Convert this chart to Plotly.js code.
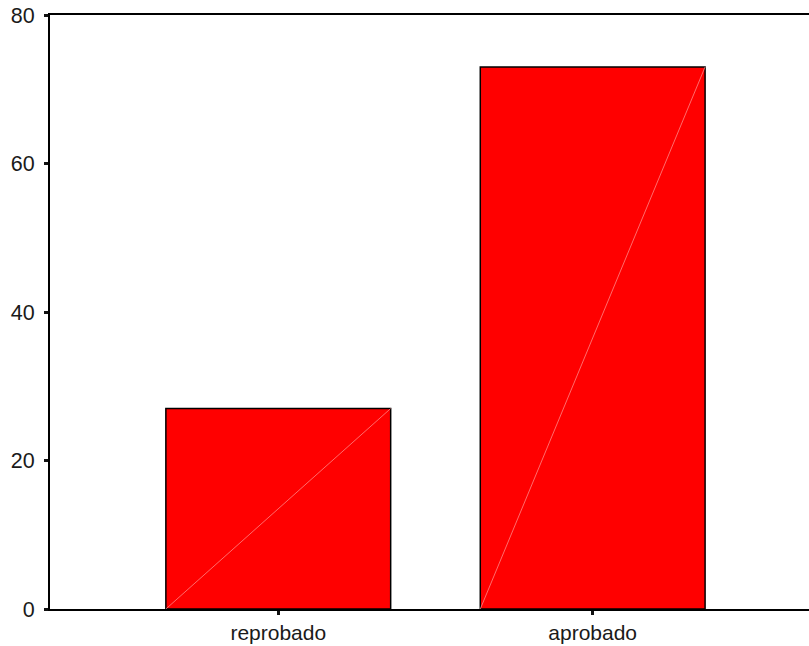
<!DOCTYPE html>
<html>
<head>
<meta charset="utf-8">
<script src="https://cdn.plot.ly/plotly-3.0.1.min.js"></script>
<style>html,body{margin:0;padding:0;background:#fff;overflow:hidden;}#chart{width:809px;height:646px;}</style>
</head>
<body>
<div id="chart"></div>
<script>
const categories = ["reprobado", "aprobado"];
const counts = [27, 73];
const yTickVals = [0, 20, 40, 60, 80];

const barWidth = 0.715;
const xIdx = categories.map((c, i) => i);

const traces = [{
  type: "bar",
  x: xIdx,
  y: counts,
  width: barWidth,
  marker: { color: "#ff0000", line: { color: "#000000", width: 1.5 } },
  hoverinfo: "skip"
}];

// thin diagonal highlight inside each bar (bottom-left to top-right)
counts.forEach((v, i) => {
  traces.push({
    type: "scatter",
    mode: "lines",
    x: [i - barWidth / 2, i + barWidth / 2],
    y: [0, v],
    line: { color: "#ff9a9a", width: 0.7 },
    hoverinfo: "skip",
    showlegend: false
  });
});

const layout = {
  width: 809,
  height: 646,
  margin: { l: 50, r: 0, t: 15, b: 37 },
  paper_bgcolor: "#ffffff",
  plot_bgcolor: "#ffffff",
  showlegend: false,
  font: { family: "Liberation Sans, Arial, sans-serif", size: 21, color: "#1a1a1a" },
  xaxis: {
    range: [-0.726, 1.688],
    tickvals: xIdx,
    ticktext: categories,
    showgrid: false,
    zeroline: false,
    showline: true,
    linecolor: "#000",
    linewidth: 2,
    mirror: true,
    ticks: "outside",
    ticklen: 4,
    tickwidth: 3,
    tickcolor: "#111",
    ticklabelstandoff: 0,
    tickfont: { size: 21 }
  },
  yaxis: {
    range: [0, 80],
    tickvals: yTickVals,
    showgrid: false,
    zeroline: false,
    showline: true,
    linecolor: "#000",
    linewidth: 2,
    ticks: "outside",
    ticklen: 4,
    tickwidth: 3,
    tickcolor: "#111",
    ticklabelstandoff: 5,
    tickfont: { size: 21.5 }
  }
};

Plotly.newPlot("chart", traces, layout, { staticPlot: true, displayModeBar: false });
</script>
</body>
</html>
